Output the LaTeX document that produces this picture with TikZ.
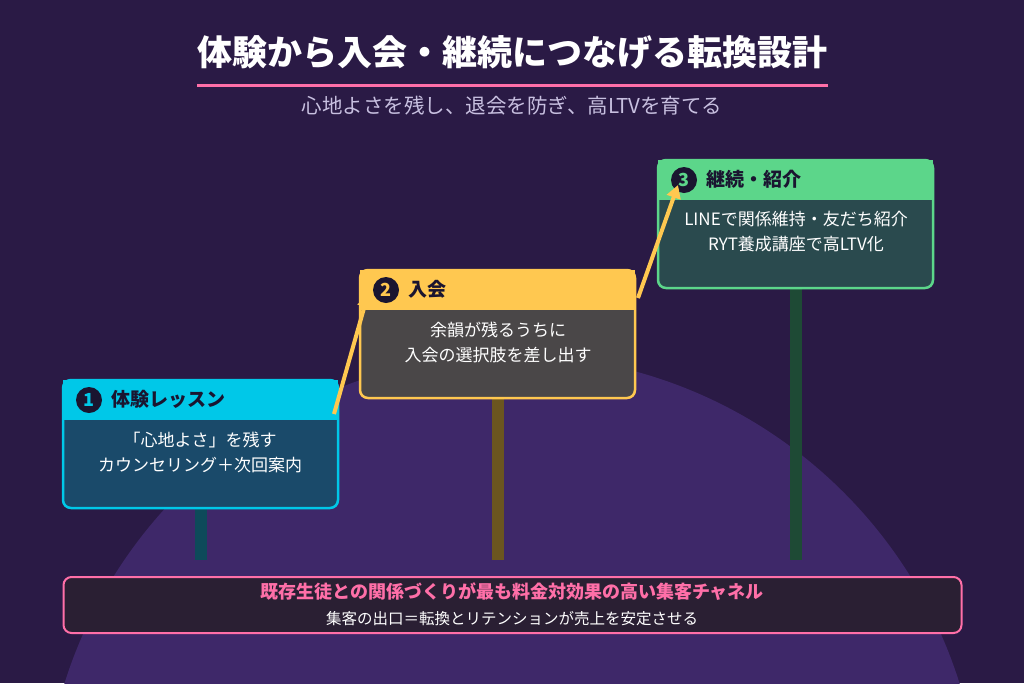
\documentclass[tikz,border=0pt]{standalone}
\usepackage{fontspec}
\setmainfont{Noto Sans CJK JP}
\usetikzlibrary{arrows.meta}
\definecolor{bg}{HTML}{2A1A45}
\definecolor{hill}{HTML}{3E2869}
\definecolor{cyanH}{HTML}{00C8E8}
\definecolor{cyanB}{HTML}{1A4A6A}
\definecolor{cyanP}{HTML}{0E4A5A}
\definecolor{yelH}{HTML}{FFC850}
\definecolor{yelB}{HTML}{4A4748}
\definecolor{yelP}{HTML}{6B5520}
\definecolor{grnH}{HTML}{5CD68A}
\definecolor{grnB}{HTML}{2A4A4E}
\definecolor{grnP}{HTML}{1E4A35}
\definecolor{pinkc}{HTML}{FF6FA8}
\definecolor{darkc}{HTML}{1A1530}
\definecolor{lav}{HTML}{C8C0E0}
\definecolor{footbg}{HTML}{2A1F33}
\tikzset{
  stepnum/.style={circle,fill=darkc,inner sep=0pt,minimum size=26pt,font=\bfseries\fontsize{18}{18}\selectfont},
  headtxt/.style={anchor=west,text=darkc,font=\bfseries\fontsize{19}{21}\selectfont},
  bodytxt/.style={align=center,text=white,font=\fontsize{17}{25}\selectfont},
  flow/.style={draw=yelH,line width=4pt,-{Triangle[length=13pt,width=14pt]}}
}
\newcommand{\stepcard}[6]{% x0,y0,headcolor,bodycolor,postcolor,name
  \fill[#5] (#1+132,#2+120) rectangle (#1+144,560);
  \fill[#4,rounded corners=8pt] (#1,#2) rectangle (#1+275,#2+128);
  \fill[#3] (#1,#2) rectangle (#1+275,#2+40);
  \draw[#3,line width=2.5pt,rounded corners=8pt] (#1,#2) -- (#1,#2+128) -- (#1+275,#2+128) -- (#1+275,#2) -- cycle;
  \coordinate (#6) at (#1,#2);
}
\begin{document}
\begin{tikzpicture}[x=1pt,y=-1pt]
\fill[bg] (0,0) rectangle (1024,683);
\useasboundingbox (0,0) rectangle (1024,683);
\begin{scope}
\clip (0,0) rectangle (1024,683);
\fill[hill] (512,824) circle (469);
\end{scope}
\node[text=white,font=\bfseries\fontsize{35}{37}\selectfont] (title) at (512,52) {体験から入会・継続につなげる転換設計};
\draw[pinkc,line width=3pt] (197,85) -- (828,85);
\node[text=lav,font=\fontsize{20.5}{22}\selectfont] (sub) at (512,106) {心地よさを残し、退会を防ぎ、高LTVを育てる};
\stepcard{63}{380}{cyanH}{cyanB}{cyanP}{c1}
\stepcard{360}{270}{yelH}{yelB}{yelP}{c2}
\stepcard{658}{160}{grnH}{grnB}{grnP}{c3}
\node[stepnum,text=cyanH] (n1) at (89,400) {1};
\node[headtxt] (h1) at (108,399) {体験レッスン};
\node[bodytxt] (b1) at (200,452) {「心地よさ」を残す\\カウンセリング＋次回案内};
\node[stepnum,text=yelH] (n2) at (386,290) {2};
\node[headtxt] (h2) at (405,289) {入会};
\node[bodytxt] (b2) at (498,342) {余韻が残るうちに\\入会の選択肢を差し出す};
\node[stepnum,text=grnH] (n3) at (684,180) {3};
\node[headtxt] (h3) at (703,179) {継続・紹介};
\node[bodytxt] (b3) at (796,232) {LINEで関係維持・友だち紹介\\RYT養成講座で高LTV化};
\coordinate (a1s) at (334,414);
\coordinate (a1e) at (368,294);
\coordinate (a2s) at (638,298);
\coordinate (a2e) at (678,185);
\draw[flow] (a1s) -- (a1e);
\draw[flow] (a2s) -- (a2e);
\node[draw=pinkc,line width=2pt,fill=footbg,rounded corners=8pt,minimum width=898pt,minimum height=56pt] (foot) at (512.5,605) {};
\node[text=pinkc,font=\bfseries\fontsize{18}{20}\selectfont] (f1) at (512,592) {既存生徒との関係づくりが最も料金対効果の高い集客チャネル};
\node[text=white,font=\fontsize{15.5}{17}\selectfont] (f2) at (512,619) {集客の出口＝転換とリテンションが売上を安定させる};
\end{tikzpicture}
\end{document}
